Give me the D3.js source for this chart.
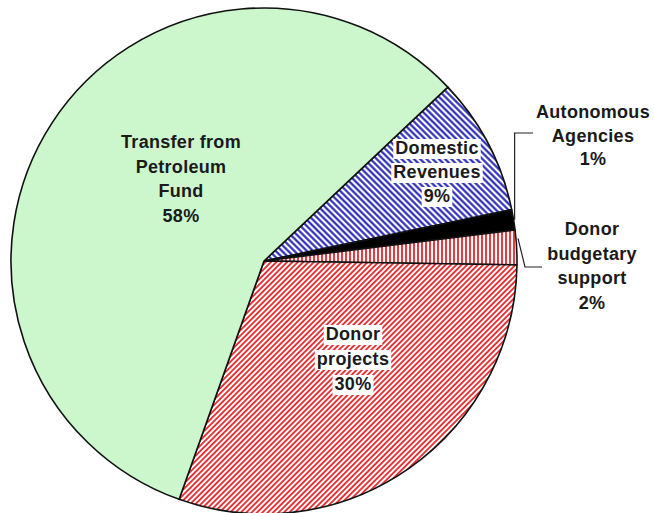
<!DOCTYPE html>
<html>
<head>
<meta charset="utf-8">
<script src="https://cdn.jsdelivr.net/npm/d3@7"></script>
<style>
  body { margin: 0; background: #fff; }
  svg text { font-family: "Liberation Sans", Arial, sans-serif; font-weight: bold; fill: #1a1a1a; }
</style>
</head>
<body>
<div id="chart"></div>
<script>
// slices in clockwise order, starting from the top right
const categories = ["Domestic Revenues", "Autonomous Agencies", "Donor budgetary support", "Donor projects", "Transfer from Petroleum Fund"];
const shares = [8.8, 1.3, 2.2, 30.2, 57.5];
const pctLabels = ["9%", "1%", "2%", "30%", "58%"];
const labelLines = [
  ["Domestic", "Revenues"],
  ["Autonomous", "Agencies"],
  ["Donor", "budgetary", "support"],
  ["Donor", "projects"],
  ["Transfer from", "Petroleum", "Fund"]
];

const width = 654, height = 513;
const cx = 264, cy = 261, radius = 253;
const startDeg = 46.6;

// fills: pattern ids per slice
const fills = ["url(#hatchBlue)", "#000", "url(#vertRed)", "url(#hatchRed)", "#ccf7cc"];

// label anchor points (centre of text block, first baseline) and whether a white box sits behind
const labelPos = [
  {x: 437, y: 154, dy: 24, box: true},
  {x: 593, y: 118, dy: 23.5, box: false},
  {x: 592, y: 235, dy: 24.5, box: false},
  {x: 353, y: 340, dy: 25, box: true},
  {x: 181, y: 148, dy: 24.7, box: false}
];

const svg = d3.select("#chart").append("svg")
  .attr("width", width)
  .attr("height", height);

const defs = svg.append("defs");

function stripes(id, color, size, lw, angle) {
  const p = defs.append("pattern")
    .attr("id", id)
    .attr("patternUnits", "userSpaceOnUse")
    .attr("width", size)
    .attr("height", size)
    .attr("patternTransform", "rotate(" + angle + ")");
  p.append("rect").attr("width", size).attr("height", size).attr("fill", "#fff");
  p.append("line")
    .attr("x1", size / 2).attr("y1", 0)
    .attr("x2", size / 2).attr("y2", size)
    .attr("stroke", color)
    .attr("stroke-width", lw);
}

stripes("hatchBlue", "#2222b4", 4.4, 2.1, -45);
stripes("hatchRed", "#e4262b", 3.8, 1.8, 45);
stripes("vertRed", "#e4262b", 4, 1.8, 0);

const g = svg.append("g").attr("transform", "translate(" + cx + "," + cy + ")");

const toRad = d => d * Math.PI / 180;

const pie = d3.pie()
  .sort(null)
  .value(d => d)
  .startAngle(toRad(startDeg))
  .endAngle(toRad(startDeg + 360));

const arc = d3.arc().innerRadius(0).outerRadius(radius);

const arcs = pie(shares);

g.selectAll("path.slice")
  .data(arcs)
  .join("path")
    .attr("class", "slice")
    .attr("d", arc)
    .attr("fill", (d, i) => fills[i])
    .attr("stroke", "#111")
    .attr("stroke-width", 1.6)
    .attr("stroke-linejoin", "round");

// leader lines for the two small slices outside the pie
const edge = (a, r) => [Math.sin(a) * r, -Math.cos(a) * r];

const aAuto = (arcs[1].startAngle + arcs[1].endAngle) / 2;
const pAuto = edge(aAuto, radius);
g.append("path")
  .attr("d", d3.line()([
    [pAuto[0] + 1, pAuto[1]],
    [pAuto[0] + 1, 133 - cy],
    [533 - cx, 133 - cy]
  ]))
  .attr("fill", "none")
  .attr("stroke", "#222")
  .attr("stroke-width", 1.2);

const aBud = (arcs[2].startAngle + arcs[2].endAngle) / 2 + toRad(-2);
const pBud = edge(aBud, radius + 2);
g.append("path")
  .attr("d", d3.line()([
    [pBud[0], pBud[1]],
    [525 - cx, 267 - cy],
    [542 - cx, 267 - cy]
  ]))
  .attr("fill", "none")
  .attr("stroke", "#222")
  .attr("stroke-width", 1.2);

// labels
const labels = svg.append("g");

categories.forEach((c, i) => {
  const pos = labelPos[i];
  const lines = labelLines[i].concat([pctLabels[i]]);
  const grp = labels.append("g");
  const texts = lines.map((t, k) => grp.append("text")
      .attr("x", pos.x)
      .attr("y", pos.y + k * pos.dy)
      .attr("text-anchor", "middle")
      .style("font-size", "18px")
      .style("letter-spacing", "0.3px")
      .text(t));
  if (pos.box) {
    texts.forEach(t => {
      const b = t.node().getBBox();
      grp.insert("rect", "text")
        .attr("x", b.x - 2)
        .attr("y", b.y + 1)
        .attr("width", b.width + 4)
        .attr("height", b.height)
        .attr("fill", "#fff");
    });
  }
});
</script>
</body>
</html>
